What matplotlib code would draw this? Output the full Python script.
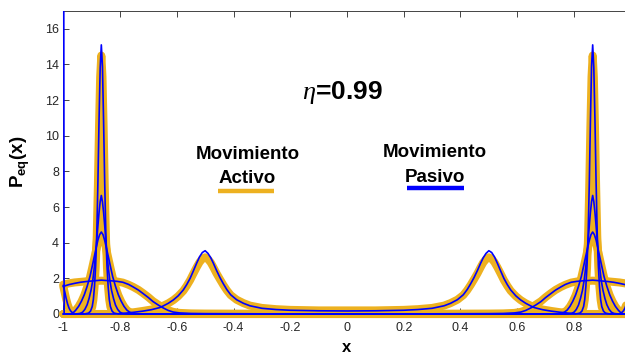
import numpy as np
import matplotlib
matplotlib.use("Agg")
import matplotlib.pyplot as plt
from matplotlib.patches import Rectangle

plt.rcParams['font.family'] = ['Liberation Sans', 'DejaVu Sans']
plt.rcParams['mathtext.fontset'] = 'custom'
plt.rcParams['mathtext.rm'] = 'Liberation Sans'
plt.rcParams['mathtext.it'] = 'Liberation Serif:italic'
plt.rcParams['mathtext.bf'] = 'Liberation Sans:bold'

# Equilibrium densities on the half interval [-1, 0]; the profiles are even in x.
x1 = [-1.0, -0.926, -0.911, -0.904, -0.898, -0.894, -0.890, -0.886, -0.882, -0.878,
      -0.874, -0.870, -0.866, -0.862, -0.858, -0.854, -0.850, -0.846, -0.842, -0.838,
      -0.834, -0.828, -0.821, -0.806, 0.0]
act1 = [0, 0, 0.04, 0.15, 0.4, 0.8, 1.5, 2.6, 4.4, 7.2, 10.5, 13.3, 14.5,
        13.3, 10.5, 7.2, 4.4, 2.6, 1.5, 0.8, 0.4, 0.15, 0.04, 0, 0]
x1p = [-1.0, -0.997] + x1[1:]
pas1 = [40, 0, 0, 0.05, 0.16, 0.42, 0.82, 1.55, 2.7, 4.5, 7.4, 10.9, 13.8, 15.1,
        13.9, 10.8, 7.3, 4.5, 2.7, 1.55, 0.82, 0.42, 0.16, 0.05, 0, 0]

x2 = [-1.0, -0.956, -0.941, -0.932, -0.924, -0.916, -0.909, -0.902, -0.896, -0.891,
      -0.886, -0.882, -0.878, -0.874, -0.870, -0.866, -0.862, -0.858, -0.854, -0.850,
      -0.846, -0.841, -0.836, -0.830, -0.823, -0.816, -0.808, -0.800, -0.791, -0.776, 0.0]
act2 = [0, 0, 0.03, 0.1, 0.25, 0.5, 0.85, 1.3, 1.85, 2.5, 3.3, 4.0, 4.8, 5.5, 6.1, 6.4,
        6.1, 5.5, 4.8, 4.0, 3.3, 2.5, 1.85, 1.3, 0.85, 0.5, 0.25, 0.1, 0.03, 0, 0]
pas2 = [0, 0, 0.03, 0.1, 0.26, 0.52, 0.88, 1.35, 1.9, 2.58, 3.4, 4.15, 4.95, 5.7, 6.3, 6.65,
        6.3, 5.7, 4.95, 4.1, 3.35, 2.55, 1.9, 1.33, 0.87, 0.5, 0.25, 0.1, 0.03, 0, 0]

x3 = [-1.0, -0.995, -0.99, -0.985, -0.98, -0.975, -0.97, -0.965, -0.956, -0.946,
      -0.936, -0.926, -0.916, -0.906, -0.898, -0.891, -0.884, -0.878, -0.872, -0.866,
      -0.860, -0.854, -0.848, -0.841, -0.834, -0.826, -0.816, -0.806, -0.796, -0.786,
      -0.776, -0.766, -0.756, -0.741, 0.0]
act3 = [1.55, 1.2, 0.85, 0.55, 0.33, 0.18, 0.1, 0.07, 0.22, 0.42, 0.7, 1.05, 1.5, 2.05,
        2.6, 3.1, 3.6, 4.0, 4.3, 4.4, 4.3, 4.0, 3.6, 3.1, 2.6, 2.05, 1.5, 1.05, 0.7,
        0.42, 0.22, 0.1, 0.04, 0, 0]
pas3 = [1.6, 1.25, 0.88, 0.57, 0.34, 0.19, 0.1, 0.07, 0.22, 0.43, 0.72, 1.08, 1.55, 2.1,
        2.68, 3.2, 3.72, 4.15, 4.45, 4.6, 4.45, 4.12, 3.7, 3.2, 2.68, 2.1, 1.55, 1.08,
        0.72, 0.43, 0.22, 0.1, 0.04, 0, 0]

x4 = [-1.0, -0.98, -0.96, -0.94, -0.92, -0.90, -0.88, -0.866, -0.85, -0.83, -0.81,
      -0.79, -0.77, -0.754, -0.735, -0.719, -0.70, -0.684, -0.665, -0.649, -0.63,
      -0.613, -0.59, -0.55, -0.5, -0.3, 0.0]
act4 = [1.65, 1.72, 1.77, 1.8, 1.83, 1.85, 1.86, 1.87, 1.86, 1.85, 1.82, 1.76, 1.64,
        1.52, 1.35, 1.17, 0.94, 0.72, 0.52, 0.36, 0.21, 0.12, 0.06, 0.03, 0.02, 0.01, 0.01]
pas4 = [1.55, 1.65, 1.72, 1.78, 1.82, 1.85, 1.88, 1.9, 1.88, 1.86, 1.83, 1.78, 1.66,
        1.52, 1.34, 1.15, 0.92, 0.7, 0.5, 0.35, 0.2, 0.11, 0.06, 0.03, 0.02, 0.01, 0.01]

x5 = [-1.0, -0.82, -0.80, -0.78, -0.75, -0.72, -0.69, -0.66, -0.648, -0.63, -0.612,
      -0.595, -0.577, -0.565, -0.553, -0.542, -0.530, -0.52, -0.51, -0.5, -0.49, -0.48,
      -0.471, -0.46, -0.448, -0.436, -0.424, -0.41, -0.389, -0.365, -0.342, -0.3, -0.25,
      -0.2, -0.1, 0.0]
act5 = [0, 0, 0.02, 0.05, 0.1, 0.17, 0.25, 0.37, 0.46, 0.6, 0.78, 1.0, 1.3, 1.58, 1.9,
        2.25, 2.62, 2.9, 3.1, 3.18, 3.08, 2.88, 2.62, 2.28, 1.95, 1.63, 1.34, 1.06, 0.8,
        0.61, 0.47, 0.34, 0.27, 0.23, 0.2, 0.2]
pas5 = [0, 0, 0.02, 0.05, 0.1, 0.16, 0.24, 0.36, 0.45, 0.6, 0.79, 1.02, 1.35, 1.65, 2.0,
        2.4, 2.85, 3.2, 3.45, 3.55, 3.4, 3.15, 2.85, 2.45, 2.05, 1.7, 1.38, 1.08, 0.8,
        0.6, 0.46, 0.32, 0.25, 0.21, 0.18, 0.17]

active = [(x1, act1), (x2, act2), (x3, act3), (x4, act4), (x5, act5)]
passive = [(x1p, pas1), (x2, pas2), (x3, pas3), (x4, pas4), (x5, pas5)]

xticks = [-1, -0.8, -0.6, -0.4, -0.2, 0, 0.2, 0.4, 0.6, 0.8]
xticklabels = ['-1', '-0.8', '-0.6', '-0.4', '-0.2', '0', '0.2', '0.4', '0.6', '0.8']
yticks = [0, 2, 4, 6, 8, 10, 12, 14, 16]

ORANGE = '#EDB120'
BLUE = '#0000FF'
GRAY = '#262626'


def full_profile(xh, yh):
    """Extend a profile given on [-1, 0] to [-1, 1] using its even symmetry."""
    xh = np.asarray(xh, float)
    yh = np.asarray(yh, float)
    x = np.concatenate([xh, -xh[::-1][1:]])
    y = np.concatenate([yh, yh[::-1][1:]])
    return x, y


W, H = 625, 358
fig = plt.figure(figsize=(W / 100, H / 100), dpi=100)
ax = fig.add_axes([63.3 / W, 44 / H, 567.4 / W, 303 / H])

clip = Rectangle((-0.02, -0.03), 1.04, 1.03, transform=ax.transAxes,
                 facecolor='none', edgecolor='none')
ax.add_patch(clip)

for xh, yh in active:
    x, y = full_profile(xh, yh)
    ln, = ax.plot(x, y, color=ORANGE, lw=5.8, zorder=3, solid_joinstyle='round',
                  solid_capstyle='round')
    ln.set_clip_path(clip)

for xh, yh in passive:
    x, y = full_profile(xh, yh)
    ln, = ax.plot(x, y, color=BLUE, lw=1.2, zorder=4)
    ln.set_clip_path(clip)

ax.set_xlim(-1, 1)
ax.set_ylim(0, 17)
ax.set_xticks(xticks)
ax.set_xticklabels(xticklabels)
ax.set_yticks(yticks)
ax.tick_params(direction='in', length=4, width=0.6, color=GRAY, labelcolor=GRAY,
               labelsize=9, top=True, right=True)
ax.tick_params(axis='x', pad=6)
ax.tick_params(axis='y', pad=3)
for sp in ax.spines.values():
    sp.set_color(GRAY)
    sp.set_linewidth(0.6)
    sp.set_zorder(1)

# axis labels
fig.text(20 / W, 1 - 162 / H, r'$\mathbf{P_{eq}(x)}$', rotation=90, fontsize=13.5,
         ha='center', va='center', color='black')
fig.text(347 / W, 1 - 348 / H, 'x', fontsize=12, fontweight='bold',
         ha='center', va='center', color='black')

# annotations
fig.text(302 / W, 1 - 99 / H, r'$\eta$=0.99', fontsize=19, fontweight='bold',
         ha='left', va='baseline')
fig.text(247.5 / W, 1 - 159.3 / H, 'Movimiento', fontsize=13.5, fontweight='bold',
         ha='center', va='baseline')
fig.text(247.5 / W, 1 - 183.3 / H, 'Activo', fontsize=13.5, fontweight='bold',
         ha='center', va='baseline')
fig.text(434.5 / W, 1 - 157.3 / H, 'Movimiento', fontsize=13.5, fontweight='bold',
         ha='center', va='baseline')
fig.text(435 / W, 1 - 181.7 / H, 'Pasivo', fontsize=13.5, fontweight='bold',
         ha='center', va='baseline')

fig.add_artist(plt.Line2D([218.3 / W, 274 / W], [1 - 190.7 / H, 1 - 190.7 / H],
                          color=ORANGE, lw=3.2, solid_capstyle='butt'))
fig.add_artist(plt.Line2D([407.3 / W, 464 / W], [1 - 188.3 / H, 1 - 188.3 / H],
                          color=BLUE, lw=3.2, solid_capstyle='butt'))

fig.savefig('out.png', dpi=100)
